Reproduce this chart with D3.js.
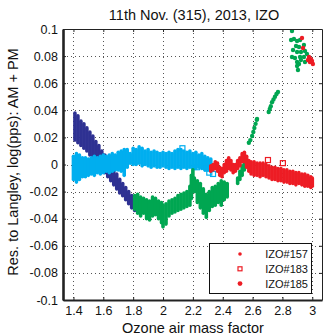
<!DOCTYPE html>
<html>
<head>
<meta charset="utf-8">
<script src="https://cdn.jsdelivr.net/npm/d3@7"></script>
<style>
  body { margin: 0; background: #fff; }
  svg { display: block; font-family: "Liberation Sans", Arial, Helvetica, sans-serif; }
</style>
</head>
<body>
<svg id="chart" width="323" height="335"></svg>
<script>
// tick values
const xTicks = [1.4, 1.6, 1.8, 2, 2.2, 2.4, 2.6, 2.8, 3];
const yTicks = [-0.1, -0.08, -0.06, -0.04, -0.02, 0, 0.02, 0.04, 0.06, 0.08, 0.1];

// dense bands of points, read as [airmass, lowest residual, highest residual]
const navyBand = [
  [1.41, 0.018, 0.038], [1.43, 0.016, 0.036], [1.45, 0.014, 0.032], [1.47, 0.012, 0.030],
  [1.49, 0.010, 0.027], [1.51, 0.007, 0.024], [1.53, 0.005, 0.021], [1.55, 0.002, 0.017],
  [1.57, 0.000, 0.014], [1.59, -0.003, 0.010], [1.61, -0.006, 0.007], [1.63, -0.009, 0.003],
  [1.65, -0.012, -0.001], [1.67, -0.015, -0.004], [1.69, -0.018, -0.007], [1.71, -0.021, -0.011],
  [1.73, -0.023, -0.014], [1.75, -0.026, -0.017], [1.77, -0.029, -0.020], [1.79, -0.032, -0.023],
  [1.81, -0.034, -0.026]
];
const cyanBand = [
  [1.40, -0.011, 0.006], [1.42, -0.013, 0.008], [1.44, -0.011, 0.007], [1.46, -0.009, 0.005],
  [1.48, -0.009, 0.005], [1.50, -0.008, 0.004], [1.52, -0.007, 0.005], [1.54, -0.008, 0.006],
  [1.56, -0.006, 0.005], [1.58, -0.007, 0.006], [1.60, -0.006, 0.007], [1.62, -0.005, 0.006],
  [1.64, -0.006, 0.007], [1.66, -0.005, 0.008], [1.68, -0.004, 0.007], [1.70, -0.004, 0.009],
  [1.72, -0.005, 0.010], [1.74, -0.008, 0.011], [1.76, -0.002, 0.011], [1.78, 0.001, 0.008],
  [1.80, 0.000, 0.012], [1.82, 0.000, 0.011], [1.84, 0.001, 0.013], [1.86, -0.001, 0.012],
  [1.88, 0.000, 0.010], [1.90, -0.001, 0.011], [1.92, -0.002, 0.009], [1.94, -0.001, 0.010],
  [1.96, -0.002, 0.009], [1.98, -0.002, 0.008], [2.00, -0.001, 0.009], [2.02, -0.002, 0.008],
  [2.04, -0.003, 0.009], [2.06, -0.002, 0.008], [2.08, -0.003, 0.010], [2.10, -0.002, 0.011],
  [2.12, -0.003, 0.011], [2.14, -0.002, 0.010], [2.16, -0.003, 0.009], [2.18, -0.002, 0.010],
  [2.20, -0.003, 0.008], [2.22, -0.003, 0.009], [2.24, -0.002, 0.007], [2.26, -0.003, 0.008],
  [2.28, -0.004, 0.006], [2.30, -0.004, 0.005], [2.32, -0.005, 0.004]
];
const cyanSquares = [[2.13, 0.012], [2.228, -0.002], [2.295, -0.003], [2.31, -0.006], [2.335, -0.007]];

const greenBand = [
  [1.81, -0.033, -0.023], [1.83, -0.036, -0.022], [1.85, -0.038, -0.024], [1.87, -0.036, -0.025],
  [1.89, -0.040, -0.026], [1.91, -0.041, -0.027], [1.93, -0.038, -0.024], [1.95, -0.037, -0.025],
  [1.97, -0.040, -0.027], [1.99, -0.043, -0.028], [2.00, -0.046, -0.030], [2.02, -0.044, -0.029],
  [2.04, -0.038, -0.027], [2.06, -0.036, -0.026], [2.08, -0.035, -0.025], [2.10, -0.034, -0.023],
  [2.12, -0.033, -0.022], [2.14, -0.032, -0.021], [2.16, -0.031, -0.020], [2.18, -0.030, -0.016],
  [2.19, -0.025, -0.008], [2.20, -0.016, -0.004], [2.21, -0.020, -0.010], [2.23, -0.028, -0.012],
  [2.25, -0.032, -0.014], [2.27, -0.036, -0.018], [2.29, -0.039, -0.022], [2.31, -0.034, -0.020],
  [2.33, -0.031, -0.017], [2.35, -0.030, -0.016], [2.37, -0.028, -0.014], [2.39, -0.030, -0.012],
  [2.41, -0.026, -0.013], [2.43, -0.024, -0.014],
  [2.50, -0.014, -0.010], [2.515, -0.011, -0.005], [2.53, -0.008, -0.001], [2.545, -0.004, 0.002],
  [2.555, -0.001, 0.004]
];
const greenDots = [
  [2.575, 0.016], [2.585, 0.018], [2.597, 0.021], [2.605, 0.024], [2.612, 0.027], [2.62, 0.030],
  [2.628, 0.033], [2.63, 0.0336],
  [2.708, 0.0387], [2.715, 0.041], [2.722, 0.043], [2.73, 0.046], [2.74, 0.048], [2.75, 0.050],
  [2.76, 0.052], [2.77, 0.0535],
  [2.864, 0.0985], [2.858, 0.0919], [2.877, 0.0926], [2.898, 0.0911], [2.918, 0.0919],
  [2.891, 0.0875], [2.911, 0.0867], [2.944, 0.0882], [2.871, 0.0845], [2.898, 0.0830],
  [2.924, 0.0830], [2.951, 0.0838], [2.964, 0.0815], [2.864, 0.0793], [2.884, 0.0786],
  [2.918, 0.0793], [2.944, 0.0793], [2.898, 0.0756], [2.924, 0.0771], [2.951, 0.0756],
  [2.898, 0.0727], [2.904, 0.0697], [2.911, 0.0742]
];

const redBand = [
  [2.32, -0.005, -0.001], [2.335, -0.004, 0.000], [2.35, -0.003, 0.002], [2.365, -0.005, 0.001],
  [2.38, -0.008, -0.002], [2.395, -0.009, -0.003], [2.41, -0.006, 0.000], [2.425, -0.005, 0.003],
  [2.44, -0.003, 0.005], [2.455, -0.004, 0.003], [2.47, -0.006, 0.000], [2.485, -0.005, 0.000],
  [2.50, -0.003, 0.003], [2.515, -0.001, 0.005], [2.53, 0.002, 0.008], [2.545, 0.002, 0.009],
  [2.56, -0.002, 0.006], [2.575, -0.005, 0.003], [2.59, -0.007, 0.002], [2.61, -0.008, 0.002],
  [2.63, -0.008, 0.001], [2.65, -0.009, 0.001], [2.67, -0.008, 0.001], [2.69, -0.009, 0.000],
  [2.71, -0.010, -0.001], [2.73, -0.011, -0.002], [2.75, -0.011, -0.002], [2.77, -0.012, -0.003],
  [2.79, -0.012, -0.003], [2.81, -0.013, -0.004], [2.83, -0.013, -0.004], [2.85, -0.014, -0.005],
  [2.87, -0.014, -0.005], [2.89, -0.015, -0.006], [2.91, -0.014, -0.006], [2.93, -0.015, -0.007],
  [2.95, -0.016, -0.007], [2.97, -0.016, -0.008], [2.99, -0.017, -0.009], [3.00, -0.016, -0.010]
];
const redDots = [
  [2.931, 0.0934], [2.938, 0.086], [2.978, 0.0793], [2.991, 0.0778], [2.984, 0.0756],
  [2.998, 0.0764], [3.004, 0.0742], [2.971, 0.0771]
];
const redSquares = [[2.703, 0.0033], [2.803, 0.001]];

const legendLabels = ['IZO#157', 'IZO#183', 'IZO#185'];

const colNavy = '#2e3192', colCyan = '#00aeef', colGreen = '#00a651', colRed = '#ed1c24';

const svg = d3.select('#chart');
const pLeft = 63, pRight = 322, pTop = 29, pBottom = 300;

const x = d3.scaleLinear().domain([1.33, 3.065]).range([pLeft, pRight]);
const y = d3.scaleLinear().domain([-0.1, 0.1]).range([pBottom, pTop]);
const fmt = d => String(+d.toFixed(2));

// dotted grid
const grid = svg.append('g').attr('stroke', '#555').attr('stroke-width', 1).attr('stroke-dasharray', '1,3');
grid.selectAll('.gx').data(xTicks).join('line')
  .attr('x1', d => Math.round(x(d)) + 0.5).attr('x2', d => Math.round(x(d)) + 0.5)
  .attr('y1', pTop).attr('y2', pBottom);
grid.selectAll('.gy').data(yTicks.slice(1, -1)).join('line')
  .attr('y1', d => Math.round(y(d)) + 0.5).attr('y2', d => Math.round(y(d)) + 0.5)
  .attr('x1', pLeft).attr('x2', pRight);

svg.append('clipPath').attr('id', 'clip').append('rect')
  .attr('x', pLeft).attr('y', pTop).attr('width', pRight - pLeft).attr('height', pBottom - pTop);
const plot = svg.append('g').attr('clip-path', 'url(#clip)');

function drawBand(data, color) {
  plot.append('g').selectAll('line').data(data).join('line')
    .attr('x1', d => x(d[0])).attr('x2', d => x(d[0]))
    .attr('y1', d => y(d[1])).attr('y2', d => y(d[2]))
    .attr('stroke', color).attr('stroke-width', 3.6).attr('stroke-linecap', 'round');
}
function drawDots(data, color, r) {
  plot.append('g').selectAll('circle').data(data).join('circle')
    .attr('cx', d => x(d[0])).attr('cy', d => y(d[1])).attr('r', r).attr('fill', color);
}
function drawSquares(data, color) {
  plot.append('g').selectAll('rect').data(data).join('rect')
    .attr('x', d => x(d[0]) - 2.5).attr('y', d => y(d[1]) - 2.5)
    .attr('width', 5).attr('height', 5)
    .attr('fill', 'none').attr('stroke', color).attr('stroke-width', 1.2);
}

drawBand(navyBand, colNavy);
drawBand(cyanBand, colCyan);
drawSquares(cyanSquares, colCyan);
drawBand(greenBand, colGreen);
drawDots(greenDots, colGreen, 2.2);
drawBand(redBand, colRed);
drawDots(redDots, colRed, 2.2);
drawSquares(redSquares, colRed);

// axes
function styleAxis(g, w) {
  g.attr('font-family', null).attr('font-size', 12.5);
  g.select('.domain').attr('stroke', '#222').attr('stroke-width', w);
  g.selectAll('.tick line').attr('stroke', '#222');
  g.selectAll('.tick text').attr('fill', '#111');
}
svg.append('g').attr('transform', `translate(0,${pBottom})`)
  .call(d3.axisBottom(x).tickValues(xTicks).tickFormat(fmt).tickSize(-3).tickSizeOuter(0).tickPadding(6))
  .call(g => styleAxis(g, 2.2));
svg.append('g').attr('transform', `translate(0,${pTop})`)
  .call(d3.axisTop(x).tickValues(xTicks).tickFormat('').tickSize(-3).tickSizeOuter(0))
  .call(g => styleAxis(g, 1));
svg.append('g').attr('transform', `translate(${pRight},0)`)
  .call(d3.axisRight(y).tickValues(yTicks).tickFormat('').tickSize(-3).tickSizeOuter(0))
  .call(g => styleAxis(g, 1));
svg.append('g').attr('transform', `translate(${pLeft},0)`)
  .call(d3.axisLeft(y).tickValues(yTicks).tickFormat(fmt).tickSize(-3).tickSizeOuter(0).tickPadding(5))
  .call(g => styleAxis(g, 2.6));

// legend
const lg = svg.append('g');
lg.append('rect').attr('x', 209.5).attr('y', 243.5).attr('width', 102).attr('height', 50)
  .attr('fill', '#fff').attr('stroke', '#111').attr('stroke-width', 1);
const rows = lg.selectAll('.row').data(legendLabels).join('g')
  .attr('transform', (d, i) => `translate(0,${254 + i * 14.8})`);
rows.append('text').attr('x', 308).attr('text-anchor', 'end').attr('dy', '0.36em')
  .attr('font-size', 11).attr('fill', '#111').text(d => d);
rows.filter((d, i) => i === 0).append('circle').attr('cx', 240).attr('r', 1.8).attr('fill', colRed);
rows.filter((d, i) => i === 1).append('rect').attr('x', 238).attr('y', -2).attr('width', 4).attr('height', 4)
  .attr('fill', 'none').attr('stroke', colRed).attr('stroke-width', 1.2);
rows.filter((d, i) => i === 2).append('circle').attr('cx', 240).attr('r', 2.4).attr('fill', colRed);

// titles
svg.append('text').attr('x', 194).attr('y', 20).attr('text-anchor', 'middle')
  .attr('font-size', 14.5).attr('fill', '#111').text('11th Nov. (315), 2013, IZO');
svg.append('text').attr('x', 193).attr('y', 333).attr('text-anchor', 'middle')
  .attr('font-size', 14.5).attr('fill', '#111').text('Ozone air mass factor');
svg.append('text').attr('transform', 'translate(18,162) rotate(-90)').attr('text-anchor', 'middle')
  .attr('font-size', 14.5).attr('fill', '#111').text('Res. to Langley, log(pps): AM + PM');
</script>
</body>
</html>
